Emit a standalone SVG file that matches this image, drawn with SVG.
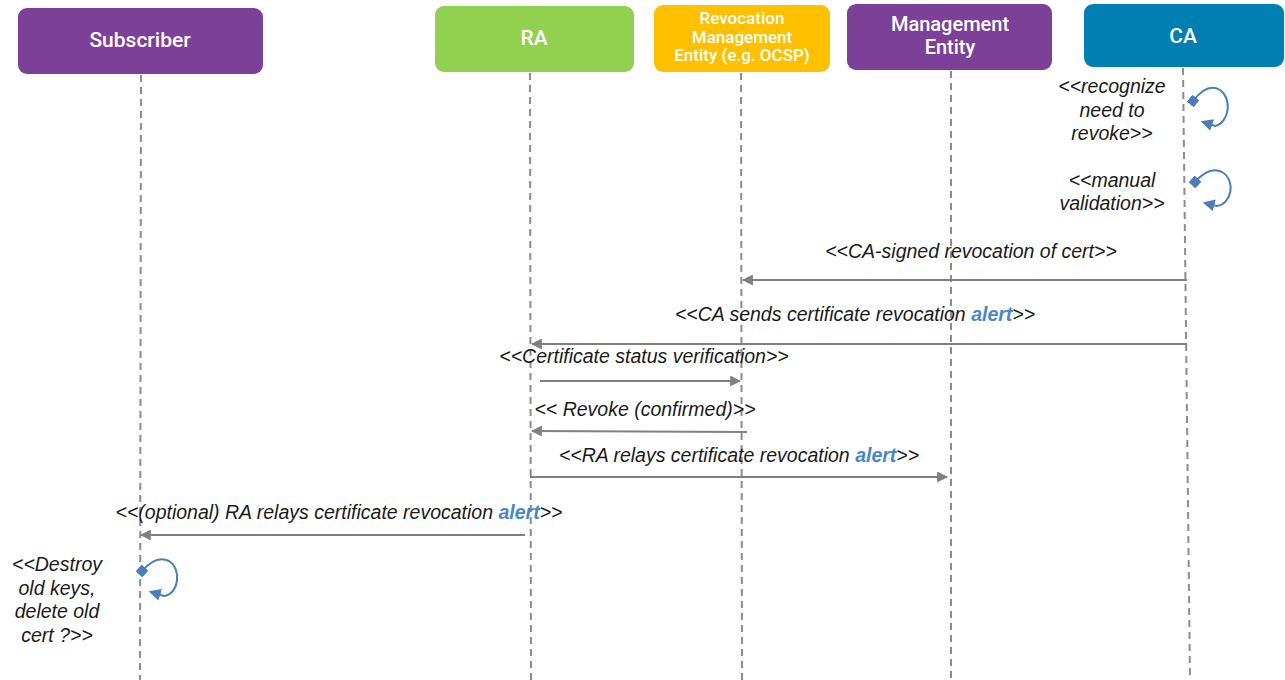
<svg xmlns="http://www.w3.org/2000/svg" width="1285" height="680" viewBox="0 0 1285 680">
<defs>
<style>
.hdr{font-family:Roboto,"Open Sans","Liberation Sans",sans-serif;font-weight:500;fill:#fff;text-anchor:middle}
.lbl{font-family:"Liberation Sans",Arial,sans-serif;font-style:italic;font-size:19.5px;fill:#1a1a1a;text-anchor:middle}
.alert{font-weight:bold;fill:#4A86C8}
.life{stroke:#8c8c8c;stroke-width:2;stroke-dasharray:7,5;fill:none}
.msg{stroke:#808080;stroke-width:2;fill:none;marker-end:url(#ah)}
.loop{stroke:#4A7EBB;stroke-width:2;fill:none;marker-start:url(#sq);marker-end:url(#lh)}
</style>
<marker id="ah" viewBox="0 0 10 10" refX="9" refY="5" markerWidth="5.5" markerHeight="5.5" orient="auto" markerUnits="strokeWidth">
<path d="M0,0 L10,5 L0,10 z" fill="#808080"/>
</marker>
<marker id="lh" viewBox="0 0 10 10" refX="8" refY="5" markerWidth="6" markerHeight="6" orient="auto" markerUnits="strokeWidth">
<path d="M0,0 L10,5 L0,10 z" fill="#4A7EBB"/>
</marker>
<marker id="sq" viewBox="0 0 10 10" refX="5" refY="5" markerWidth="4.5" markerHeight="4.5" orient="auto" markerUnits="strokeWidth">
<rect x="0" y="0" width="10" height="10" fill="#4A7EBB"/>
</marker>
</defs>
<rect width="1285" height="680" fill="#fff"/>

<g id="lifelines">
<line class="life" x1="141" y1="75" x2="140" y2="680"/>
<line class="life" x1="530" y1="73" x2="531" y2="680"/>
<line class="life" x1="741" y1="73" x2="742" y2="680"/>
<line class="life" x1="951" y1="71" x2="951" y2="680"/>
<line class="life" x1="1183" y1="68" x2="1190" y2="680"/>
</g>

<g id="subscriber">
<rect x="18" y="8" width="245" height="66" rx="9" fill="#7D4098"/>
<text class="hdr" x="140" y="47" font-size="21">Subscriber</text>
</g>
<g id="ra">
<rect x="435" y="6" width="199" height="66" rx="9" fill="#92D050"/>
<text class="hdr" x="534" y="45" font-size="21">RA</text>
</g>
<g id="rme">
<rect x="654" y="5" width="176" height="67" rx="9" fill="#FFC000"/>
<text class="hdr" x="742" y="24" font-size="17">Revocation</text>
<text class="hdr" x="742" y="42.5" font-size="17">Management</text>
<text class="hdr" x="742" y="61" font-size="17">Entity (e.g. OCSP)</text>
</g>
<g id="me">
<rect x="847" y="4" width="205" height="66" rx="9" fill="#7D4098"/>
<text class="hdr" x="950" y="31" font-size="20">Management</text>
<text class="hdr" x="950" y="54" font-size="20">Entity</text>
</g>
<g id="ca">
<rect x="1084" y="4" width="200" height="63" rx="9" fill="#0080B2"/>
<text class="hdr" x="1183" y="43" font-size="21">CA</text>
</g>

<g id="connectors">
<path class="msg" d="M1187,280 L743,280"/>
<path class="msg" d="M1187,344 L532,344"/>
<path class="msg" d="M540,381 L740,381"/>
<path class="msg" d="M747,432 L532,431"/>
<path class="msg" d="M530,477 L947,477"/>
<path class="msg" d="M525,535 L141,535"/>
<path class="loop" d="M1193,101 C1200,92 1210,84 1220,90 C1232,98 1230,122 1215,126 L1203,122"/>
<path class="loop" d="M1195,182 C1202,174 1212,167 1222,172 C1236,180 1232,204 1217,206 L1205,203"/>
<path class="loop" d="M142,571 C149,563 159,556 169,561 C182,569 179,594 164,596 L151,592"/>
</g>

<g id="labels">
<text class="lbl" x="971" y="258">&lt;&lt;CA-signed revocation of cert&gt;&gt;</text>
<text class="lbl" x="855" y="321">&lt;&lt;CA sends certificate revocation <tspan class="alert">alert</tspan>&gt;&gt;</text>
<text class="lbl" x="644" y="363">&lt;&lt;Certificate status verification&gt;&gt;</text>
<text class="lbl" x="645" y="416">&lt;&lt; Revoke (confirmed)&gt;&gt;</text>
<text class="lbl" x="739" y="462">&lt;&lt;RA relays certificate revocation <tspan class="alert">alert</tspan>&gt;&gt;</text>
<text class="lbl" x="339" y="519">&lt;&lt;(optional) RA relays certificate revocation <tspan class="alert">alert</tspan>&gt;&gt;</text>
<text class="lbl" x="1112" y="93">&lt;&lt;recognize</text>
<text class="lbl" x="1112" y="117">need to</text>
<text class="lbl" x="1112" y="140">revoke&gt;&gt;</text>
<text class="lbl" x="1112" y="187">&lt;&lt;manual</text>
<text class="lbl" x="1112" y="210">validation&gt;&gt;</text>
<text class="lbl" x="57" y="571">&lt;&lt;Destroy</text>
<text class="lbl" x="57" y="595">old keys,</text>
<text class="lbl" x="57" y="618">delete old</text>
<text class="lbl" x="57" y="642">cert ?&gt;&gt;</text>
</g>
</svg>
